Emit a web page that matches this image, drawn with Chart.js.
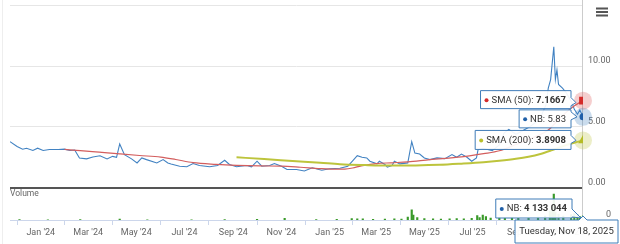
<!DOCTYPE html>
<html><head><meta charset="utf-8">
<script src="https://cdn.jsdelivr.net/npm/chart.js@4"></script>
<style>html,body{margin:0;padding:0;background:#fff;}canvas{display:block;}</style>
</head><body>
<canvas id="c" width="620" height="244"></canvas>
<script>
const xStart = '2023-11-23';
const xEnd = '2025-11-18';

const nbDates = ['2023-11-23','2023-12-02','2023-12-09','2023-12-14','2023-12-22','2023-12-28','2024-01-04','2024-01-12','2024-01-23','2024-01-31','2024-02-07','2024-02-13','2024-02-19','2024-02-28','2024-03-07','2024-03-16','2024-03-25','2024-04-01','2024-04-06','2024-04-10','2024-04-16','2024-04-25','2024-05-02','2024-05-08','2024-05-14','2024-05-27','2024-06-04','2024-06-10','2024-06-14','2024-06-25','2024-07-04','2024-07-12','2024-07-20','2024-08-02','2024-08-12','2024-08-21','2024-08-27','2024-09-05','2024-09-18','2024-09-24','2024-10-01','2024-10-07','2024-10-17','2024-10-23','2024-11-01','2024-11-08','2024-11-20','2024-11-30','2024-12-10','2024-12-22','2025-01-01','2025-01-14','2025-01-24','2025-01-29','2025-02-05','2025-02-11','2025-02-17','2025-02-21','2025-03-02','2025-03-05','2025-03-12','2025-03-15','2025-03-21','2025-03-24','2025-03-31','2025-04-10','2025-04-15','2025-04-19','2025-04-25','2025-05-01','2025-05-08','2025-05-17','2025-05-27','2025-06-05','2025-06-11','2025-06-17','2025-06-24','2025-06-30','2025-07-06','2025-07-08','2025-07-14','2025-07-26','2025-08-04','2025-08-10','2025-08-16','2025-08-25','2025-09-03','2025-09-11','2025-09-24','2025-10-02','2025-10-05','2025-10-08','2025-10-12','2025-10-14','2025-10-16','2025-10-18','2025-10-23','2025-10-28','2025-11-04','2025-11-07','2025-11-11','2025-11-14','2025-11-18'];
const nbClose = [3.79,3.39,3.17,3.25,3.06,3.25,3.06,3.14,3.14,3.17,3.06,3.10,2.45,2.37,2.53,2.63,2.37,2.58,2.50,3.60,2.72,2.37,2.04,2.45,2.31,2.04,2.31,2.04,1.95,1.77,1.72,1.99,1.83,1.72,1.83,2.26,1.91,1.72,1.83,1.72,2.18,1.77,1.83,1.99,1.77,1.50,1.50,1.37,1.64,1.43,1.56,1.60,1.77,2.12,2.63,2.50,2.45,2.18,1.96,2.18,1.91,1.69,1.83,2.18,1.96,2.04,3.79,2.85,2.77,2.45,2.31,2.45,2.39,2.72,2.50,2.77,2.50,2.18,2.45,3.12,3.25,3.04,3.52,4.50,4.80,4.40,4.70,5.00,5.60,6.80,8.20,8.90,11.60,8.90,9.70,8.50,8.20,7.80,7.00,6.45,6.05,6.40,5.83];

const sma50Dates = ['2024-01-31','2024-02-20','2024-03-15','2024-04-10','2024-05-05','2024-06-01','2024-06-20','2024-07-12','2024-08-10','2024-09-05','2024-10-05','2024-11-01','2024-11-25','2024-12-20','2025-01-10','2025-01-20','2025-01-30','2025-02-10','2025-03-01','2025-03-20','2025-04-10','2025-05-08','2025-06-17','2025-07-15','2025-08-04','2025-08-25','2025-09-15','2025-10-05','2025-10-20','2025-11-05','2025-11-18'];
const sma50Values = [3.15,3.05,2.92,2.78,2.65,2.52,2.32,2.06,1.92,1.84,1.79,1.77,1.68,1.57,1.52,1.53,1.62,1.80,1.98,2.05,2.12,2.31,2.53,2.80,3.04,3.55,4.10,4.75,5.75,6.65,7.1667];

const sma200Dates = ['2024-09-05','2024-10-10','2024-11-15','2024-12-20','2025-01-14','2025-02-15','2025-03-20','2025-04-20','2025-05-20','2025-06-17','2025-07-15','2025-08-04','2025-08-25','2025-09-10','2025-09-25','2025-10-10','2025-10-25','2025-11-08','2025-11-18'];
const sma200Values = [2.50,2.36,2.20,2.05,1.93,1.86,1.82,1.83,1.88,1.98,2.10,2.22,2.38,2.55,2.78,3.10,3.45,3.72,3.8908];

const volDates = ['2023-12-05','2024-01-10','2024-02-20','2024-04-10','2024-05-15','2024-07-10','2024-08-21','2024-10-01','2024-11-05','2024-12-15','2025-01-10','2025-01-29','2025-02-05','2025-02-12','2025-02-25','2025-03-12','2025-03-24','2025-04-02','2025-04-10','2025-04-15','2025-04-17','2025-04-22','2025-05-01','2025-05-12','2025-05-22','2025-06-02','2025-06-11','2025-06-20','2025-06-30','2025-07-07','2025-07-10','2025-07-14','2025-07-18','2025-07-24','2025-08-04','2025-08-11','2025-08-20','2025-08-28','2025-09-10','2025-09-22','2025-10-01','2025-10-07','2025-10-10','2025-10-12','2025-10-14','2025-10-18','2025-10-24','2025-11-03','2025-11-07','2025-11-11','2025-11-14','2025-11-18'];
const volValues = [400000,300000,500000,900000,300000,300000,500000,600000,1600000,400000,600000,1500000,1300000,1200000,800000,1000000,1200000,900000,3000000,10500000,5000000,2500000,1500000,1200000,1000000,1300000,1500000,1200000,1800000,4500000,2500000,5000000,3500000,2000000,2500000,2000000,2500000,1800000,2500000,3000000,4000000,9000000,12000000,26500000,8000000,6000000,4000000,5500000,6500000,5000000,3500000,4133044];

const tickDates = ['2024-01-01','2024-03-01','2024-05-01','2024-07-01','2024-09-01','2024-11-01','2025-01-01','2025-03-01','2025-05-01','2025-07-01','2025-09-01','2025-11-01'];
const tickLabels = ["Jan '24","Mar '24","May '24","Jul '24","Sep '24","Nov '24","Jan '25","Mar '25","May '25","Jul '25","Sep '25","Nov '25"];
const priceTicks = [0, 5, 10, 15];

const ts = s => Date.parse(s + 'T00:00:00Z');
const pts = (d, v) => d.map((s, i) => ({x: ts(s), y: v[i]}));
const lastR = (n, r) => c => c.dataIndex === n - 1 ? r : 0;

Chart.defaults.font.family = 'Roboto';

const FONT = 'Roboto, sans-serif';
function tip(ctx, o) {
  ctx.save();
  const fs = 9.5;
  const nf = fs + 'px ' + FONT, bf = 'bold ' + fs + 'px ' + FONT;
  let tw = 0;
  const ws = o.segs.map(s => { ctx.font = s[1] ? bf : nf; const w = ctx.measureText(s[0]).width; tw += w; return w; });
  const w = (o.dot ? 11 : 6) + tw + 5;
  const right = o.right, left = right - w, top = o.top, bot = o.top + o.h;
  const cy = (top + bot) / 2;
  ctx.beginPath();
  ctx.moveTo(left, top);
  ctx.lineTo(right, top);
  if (o.tip) {
    const a = Math.max(top + 1, Math.min(bot - 9, o.tip[1] - 5));
    ctx.lineTo(right, a);
    ctx.lineTo(o.tip[0], o.tip[1]);
    ctx.lineTo(right, a + 8);
  }
  ctx.lineTo(right, bot);
  ctx.lineTo(left, bot);
  ctx.closePath();
  ctx.fillStyle = 'rgba(255,255,255,0.92)';
  ctx.fill();
  ctx.strokeStyle = '#3f7cb8';
  ctx.lineWidth = 1;
  ctx.stroke();
  let x = left + 6;
  if (o.dot) {
    ctx.beginPath(); ctx.arc(left + 6, cy + 0.5, 2, 0, Math.PI * 2); ctx.fillStyle = o.dot; ctx.fill();
    x = left + 11;
  }
  ctx.textBaseline = 'middle';
  ctx.fillStyle = '#333';
  o.segs.forEach((s, i) => { ctx.font = s[1] ? bf : nf; ctx.fillText(s[0], x, cy + 0.5); x += ws[i]; });
  ctx.restore();
}

const deco = {
  id: 'deco',
  beforeDraw(chart) {
    const ctx = chart.ctx;
    ctx.save();
    ctx.fillStyle = '#fff';
    ctx.fillRect(0, 0, chart.width, chart.height);
    ctx.strokeStyle = '#eeeeee';
    ctx.beginPath(); ctx.moveTo(2.5, 0); ctx.lineTo(2.5, chart.height); ctx.stroke();
    ctx.restore();
  },
  beforeDatasetsDraw(chart) {
    const ctx = chart.ctx, a = chart.chartArea;
    ctx.save();
    const xr = Math.round(chart.scales.x.getPixelForValue(ts(xEnd))) - 0.5;
    ctx.strokeStyle = '#cccccc';
    ctx.beginPath(); ctx.moveTo(xr, 0); ctx.lineTo(xr, a.bottom); ctx.stroke();
    const halos = [[1, 'rgba(214,60,60,0.25)'], [2, 'rgba(63,128,192,0.28)'], [0, 'rgba(188,195,58,0.28)']];
    halos.forEach(([i, col]) => {
      const m = chart.getDatasetMeta(i).data; const p = m[m.length - 1];
      ctx.beginPath(); ctx.arc(p.x, p.y, 9, 0, Math.PI * 2); ctx.fillStyle = col; ctx.fill();
    });
    ctx.restore();
  },
  afterDraw(chart) {
    const ctx = chart.ctx, a = chart.chartArea;
    ctx.save();
    ctx.fillStyle = '#666';
    ctx.font = '8.5px ' + FONT;
    ctx.textBaseline = 'middle';
    ctx.fillText('Volume', 10, 194);
    ctx.font = '9px ' + FONT;
    ctx.fillText('0', a.right + 23, chart.scales.yv.getPixelForValue(0) - 5);
    ctx.fillStyle = '#555';
    [7.5, 11, 14.5].forEach(y => ctx.fillRect(596, y, 12, 2));
    ctx.restore();
    const last = i => { const m = chart.getDatasetMeta(i).data; return m[m.length - 1]; };
    const p50 = last(1), pnb = last(2), p200 = last(0), pv = last(3);
    tip(ctx, {right: p50.x - 12, top: p50.y - 10, h: 18, dot: '#d42a2a', segs: [['SMA (50): ', false], ['7.1667', true]], tip: [p50.x - 7, p50.y + 2]});
    tip(ctx, {right: pnb.x - 12, top: pnb.y - 7, h: 18, dot: '#1f5fa8', segs: [['NB: ', false], ['5.83', false]], tip: [pnb.x - 6, pnb.y]});
    tip(ctx, {right: p200.x - 12, top: p200.y - 10, h: 19, dot: '#b8bf2a', segs: [['SMA (200): ', false], ['3.8908', true]], tip: [p200.x - 7, p200.y]});
    tip(ctx, {right: pv.x - 11, top: 199, h: 19, dot: '#1f5fa8', segs: [['NB: ', false], ['4 133 044', true]], tip: [pv.x - 2, 218]});
    ctx.save();
    const dl = 515, dr = 618, dt = 220, db = 243, px = Math.round(pv.x);
    ctx.beginPath();
    ctx.moveTo(dl, dt); ctx.lineTo(px - 4, dt); ctx.lineTo(px, dt - 4); ctx.lineTo(px + 4, dt);
    ctx.lineTo(dr, dt); ctx.lineTo(dr, db); ctx.lineTo(dl, db); ctx.closePath();
    ctx.fillStyle = 'rgba(255,255,255,0.95)'; ctx.fill();
    ctx.strokeStyle = '#3f7cb8'; ctx.lineWidth = 1; ctx.stroke();
    ctx.fillStyle = '#333'; ctx.font = '9.5px ' + FONT; ctx.textBaseline = 'middle'; ctx.textAlign = 'center';
    ctx.fillText('Tuesday, Nov 18, 2025', (dl + dr) / 2, (dt + db) / 2 + 0.5);
    ctx.restore();
  }
};

new Chart(document.getElementById('c'), {
  type: 'line',
  data: {
    datasets: [
      {label: 'SMA (200)', data: pts(sma200Dates, sma200Values), yAxisID: 'y', borderColor: '#bdc43c', borderWidth: 2,
       cubicInterpolationMode: 'monotone', pointStyle: 'triangle', pointRadius: lastR(sma200Values.length, 5.5),
       pointBackgroundColor: '#b5bc26', pointBorderWidth: 0},
      {label: 'SMA (50)', data: pts(sma50Dates, sma50Values), yAxisID: 'y', borderColor: '#d35e5e', borderWidth: 1.2,
       cubicInterpolationMode: 'monotone', pointStyle: 'rect', pointRadius: lastR(sma50Values.length, 5.5),
       pointBackgroundColor: '#d42a2a', pointBorderWidth: 0},
      {label: 'NB', data: pts(nbDates, nbClose), yAxisID: 'y', borderColor: '#4182c2', borderWidth: 1.1,
       tension: 0, pointStyle: 'circle', pointRadius: lastR(nbClose.length, 3.5),
       pointBackgroundColor: '#1f5fa8', pointBorderWidth: 0},
      {type: 'bar', label: 'Volume', data: pts(volDates, volValues), yAxisID: 'yv', backgroundColor: '#3a9a2a',
       barThickness: 1.5}
    ]
  },
  options: {
    responsive: false, animation: false, devicePixelRatio: 1, events: [],
    layout: {padding: {left: 10, top: 1, right: 0, bottom: 0}},
    plugins: {legend: {display: false}, tooltip: {enabled: false}},
    scales: {
      x: {
        type: 'linear', min: ts(xStart), max: ts(xEnd), offset: false,
        afterBuildTicks: s => { s.ticks = tickDates.map(d => ({value: ts(d)})); },
        afterFit: s => { s.height = 24; s.paddingLeft = 0; s.paddingRight = 0; },
        ticks: {autoSkip: false, maxRotation: 0, padding: 2, color: '#666', font: {size: 9},
                callback: (v, i) => tickLabels[i]},
        grid: {display: true, drawOnChartArea: false, drawTicks: true, tickLength: 5, color: '#ccd6eb'},
        border: {display: true, color: '#ccd6eb'}
      },
      y: {
        position: 'right', min: -2.6613, max: 15,
        afterBuildTicks: s => { s.ticks = priceTicks.map(v => ({value: v})); },
        afterFit: s => { s.width = 37; s.paddingTop = 0; s.paddingBottom = 0; },
        ticks: {padding: 5, labelOffset: -5, color: '#666', font: {size: 9},
                callback: v => v === 15 ? '' : v.toFixed(2)},
        grid: {drawTicks: false, color: c => c.tick && c.tick.value === 0 ? '#555' : '#e6e6e6',
               lineWidth: c => c.tick && c.tick.value === 0 ? 2 : 1},
        border: {display: false}
      },
      yv: {
        display: false, position: 'right', min: 0, max: 219000000
      }
    }
  },
  plugins: [deco]
});
</script>
</body></html>
